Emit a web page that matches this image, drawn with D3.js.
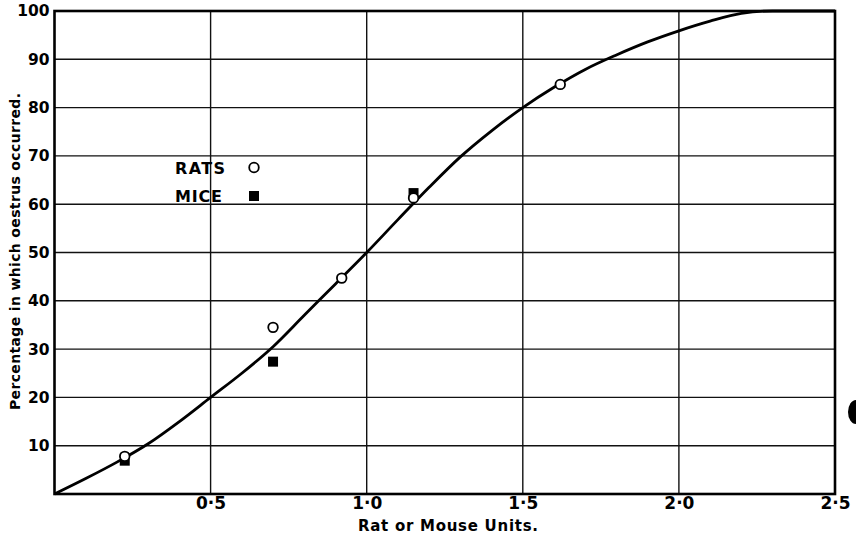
<!DOCTYPE html>
<html><head><meta charset="utf-8">
<script src="https://cdn.jsdelivr.net/npm/d3@7"></script>
<style>html,body{margin:0;padding:0;background:#fff;}svg{display:block;}</style>
</head><body>
<svg id="chart" width="856" height="534"></svg>
<script>
// Data
const xTicks = [0.5, 1.0, 1.5, 2.0, 2.5];
const xTickLabels = ["0·5", "1·0", "1·5", "2·0", "2·5"];
const yTicks = [10, 20, 30, 40, 50, 60, 70, 80, 90, 100];
const ratsX = [0.225, 0.70, 0.92, 1.15, 1.62];
const ratsY = [7.8, 34.5, 44.7, 61.3, 84.8];
const miceX = [0.225, 0.70, 1.15];
const miceY = [6.9, 27.4, 62.3];
const curveX = [0, 0.1, 0.2, 0.3, 0.4, 0.5, 0.6, 0.7, 0.8, 0.9, 1.0, 1.1, 1.2, 1.3, 1.4, 1.5, 1.6, 1.7, 1.8, 1.9, 2.0, 2.1, 2.2, 2.3, 2.5];
const curveY = [0, 3.2, 6.6, 10.4, 15, 20, 25, 30.5, 37, 43.5, 50, 56.8, 63.5, 69.8, 75.2, 80, 84.2, 87.9, 90.9, 93.6, 95.9, 97.9, 99.5, 100, 100];
const legendLabels = ["RATS", "MICE"];

const svg = d3.select("#chart");
const L = 54.5, R = 835, T = 11, B = 494;
const x = d3.scaleLinear().domain([0, 2.5]).range([L, R]);
const y = d3.scaleLinear().domain([0, 100]).range([B, T]);
const font = "'DejaVu Sans', sans-serif";

// gridlines
const g = svg.append("g");
g.selectAll("line.h").data(yTicks.filter(d => d < 100)).join("line")
  .attr("x1", L).attr("x2", R).attr("y1", d => y(d)).attr("y2", d => y(d))
  .attr("stroke", "#111").attr("stroke-width", 1.4);
g.selectAll("line.v").data(xTicks.filter(d => d < 2.5)).join("line")
  .attr("y1", T).attr("y2", B).attr("x1", d => x(d)).attr("x2", d => x(d))
  .attr("stroke", "#111").attr("stroke-width", 1.4);

// border
svg.append("rect").attr("x", L).attr("y", T).attr("width", R - L).attr("height", B - T)
  .attr("fill", "none").attr("stroke", "#000").attr("stroke-width", 2.6);

// axes via d3
const yAxis = d3.axisLeft(y).tickValues(yTicks).tickSize(0).tickPadding(4);
const ya = svg.append("g").attr("transform", `translate(${L - 1},0)`).call(yAxis);
ya.select(".domain").remove();
ya.selectAll("text").attr("font-family", font).attr("font-size", 15.5).attr("font-weight", "bold").attr("fill", "#000");

const xAxis = d3.axisBottom(x).tickValues(xTicks).tickFormat((d, i) => xTickLabels[i]).tickSize(0).tickPadding(3);
const xa = svg.append("g").attr("transform", `translate(0,${B})`).call(xAxis);
xa.select(".domain").remove();
xa.selectAll("text").attr("font-family", font).attr("font-size", 17).attr("font-weight", "bold").attr("fill", "#000");

// titles
svg.append("text").attr("x", 448).attr("y", 531).attr("text-anchor", "middle")
  .attr("font-family", font).attr("font-size", 15).attr("font-weight", "bold")
  .attr("textLength", 180).attr("lengthAdjust", "spacing").text("Rat or Mouse Units.");
svg.append("text").attr("transform", "translate(20,251.5) rotate(-90)").attr("text-anchor", "middle")
  .attr("font-family", font).attr("font-size", 14).attr("font-weight", "bold")
  .attr("textLength", 317).attr("lengthAdjust", "spacing").text("Percentage in which oestrus occurred.");

// curve
const pts = curveX.map((d, i) => [d, curveY[i]]);
svg.append("path").datum(pts)
  .attr("d", d3.line().x(d => x(d[0])).y(d => y(d[1])).curve(d3.curveMonotoneX))
  .attr("fill", "none").attr("stroke", "#000").attr("stroke-width", 2.8);

// mice squares
const s = 10;
svg.selectAll("rect.mice").data(miceX.map((d, i) => [d, miceY[i]])).join("rect")
  .attr("x", d => x(d[0]) - s / 2).attr("y", d => y(d[1]) - s / 2).attr("width", s).attr("height", s)
  .attr("fill", "#000");
// rats circles
svg.selectAll("circle.rats").data(ratsX.map((d, i) => [d, ratsY[i]])).join("circle")
  .attr("cx", d => x(d[0])).attr("cy", d => y(d[1])).attr("r", 4.8)
  .attr("fill", "#fff").attr("stroke", "#000").attr("stroke-width", 1.8);

// legend
svg.append("text").attr("x", 175).attr("y", 174).attr("font-family", font).attr("font-size", 16)
  .attr("font-weight", "bold").attr("textLength", 50).attr("lengthAdjust", "spacing").text(legendLabels[0]);
svg.append("text").attr("x", 175).attr("y", 202).attr("font-family", font).attr("font-size", 16)
  .attr("font-weight", "bold").attr("textLength", 47).attr("lengthAdjust", "spacing").text(legendLabels[1]);
svg.append("circle").attr("cx", 254).attr("cy", 167.5).attr("r", 4.8).attr("fill", "#fff").attr("stroke", "#000").attr("stroke-width", 1.8);
svg.append("rect").attr("x", 249).attr("y", 191).attr("width", s).attr("height", s).attr("fill", "#000");

// scan blot at right edge
svg.append("ellipse").attr("cx", 856).attr("cy", 412).attr("rx", 8).attr("ry", 12).attr("fill", "#000");
</script>
</body></html>
